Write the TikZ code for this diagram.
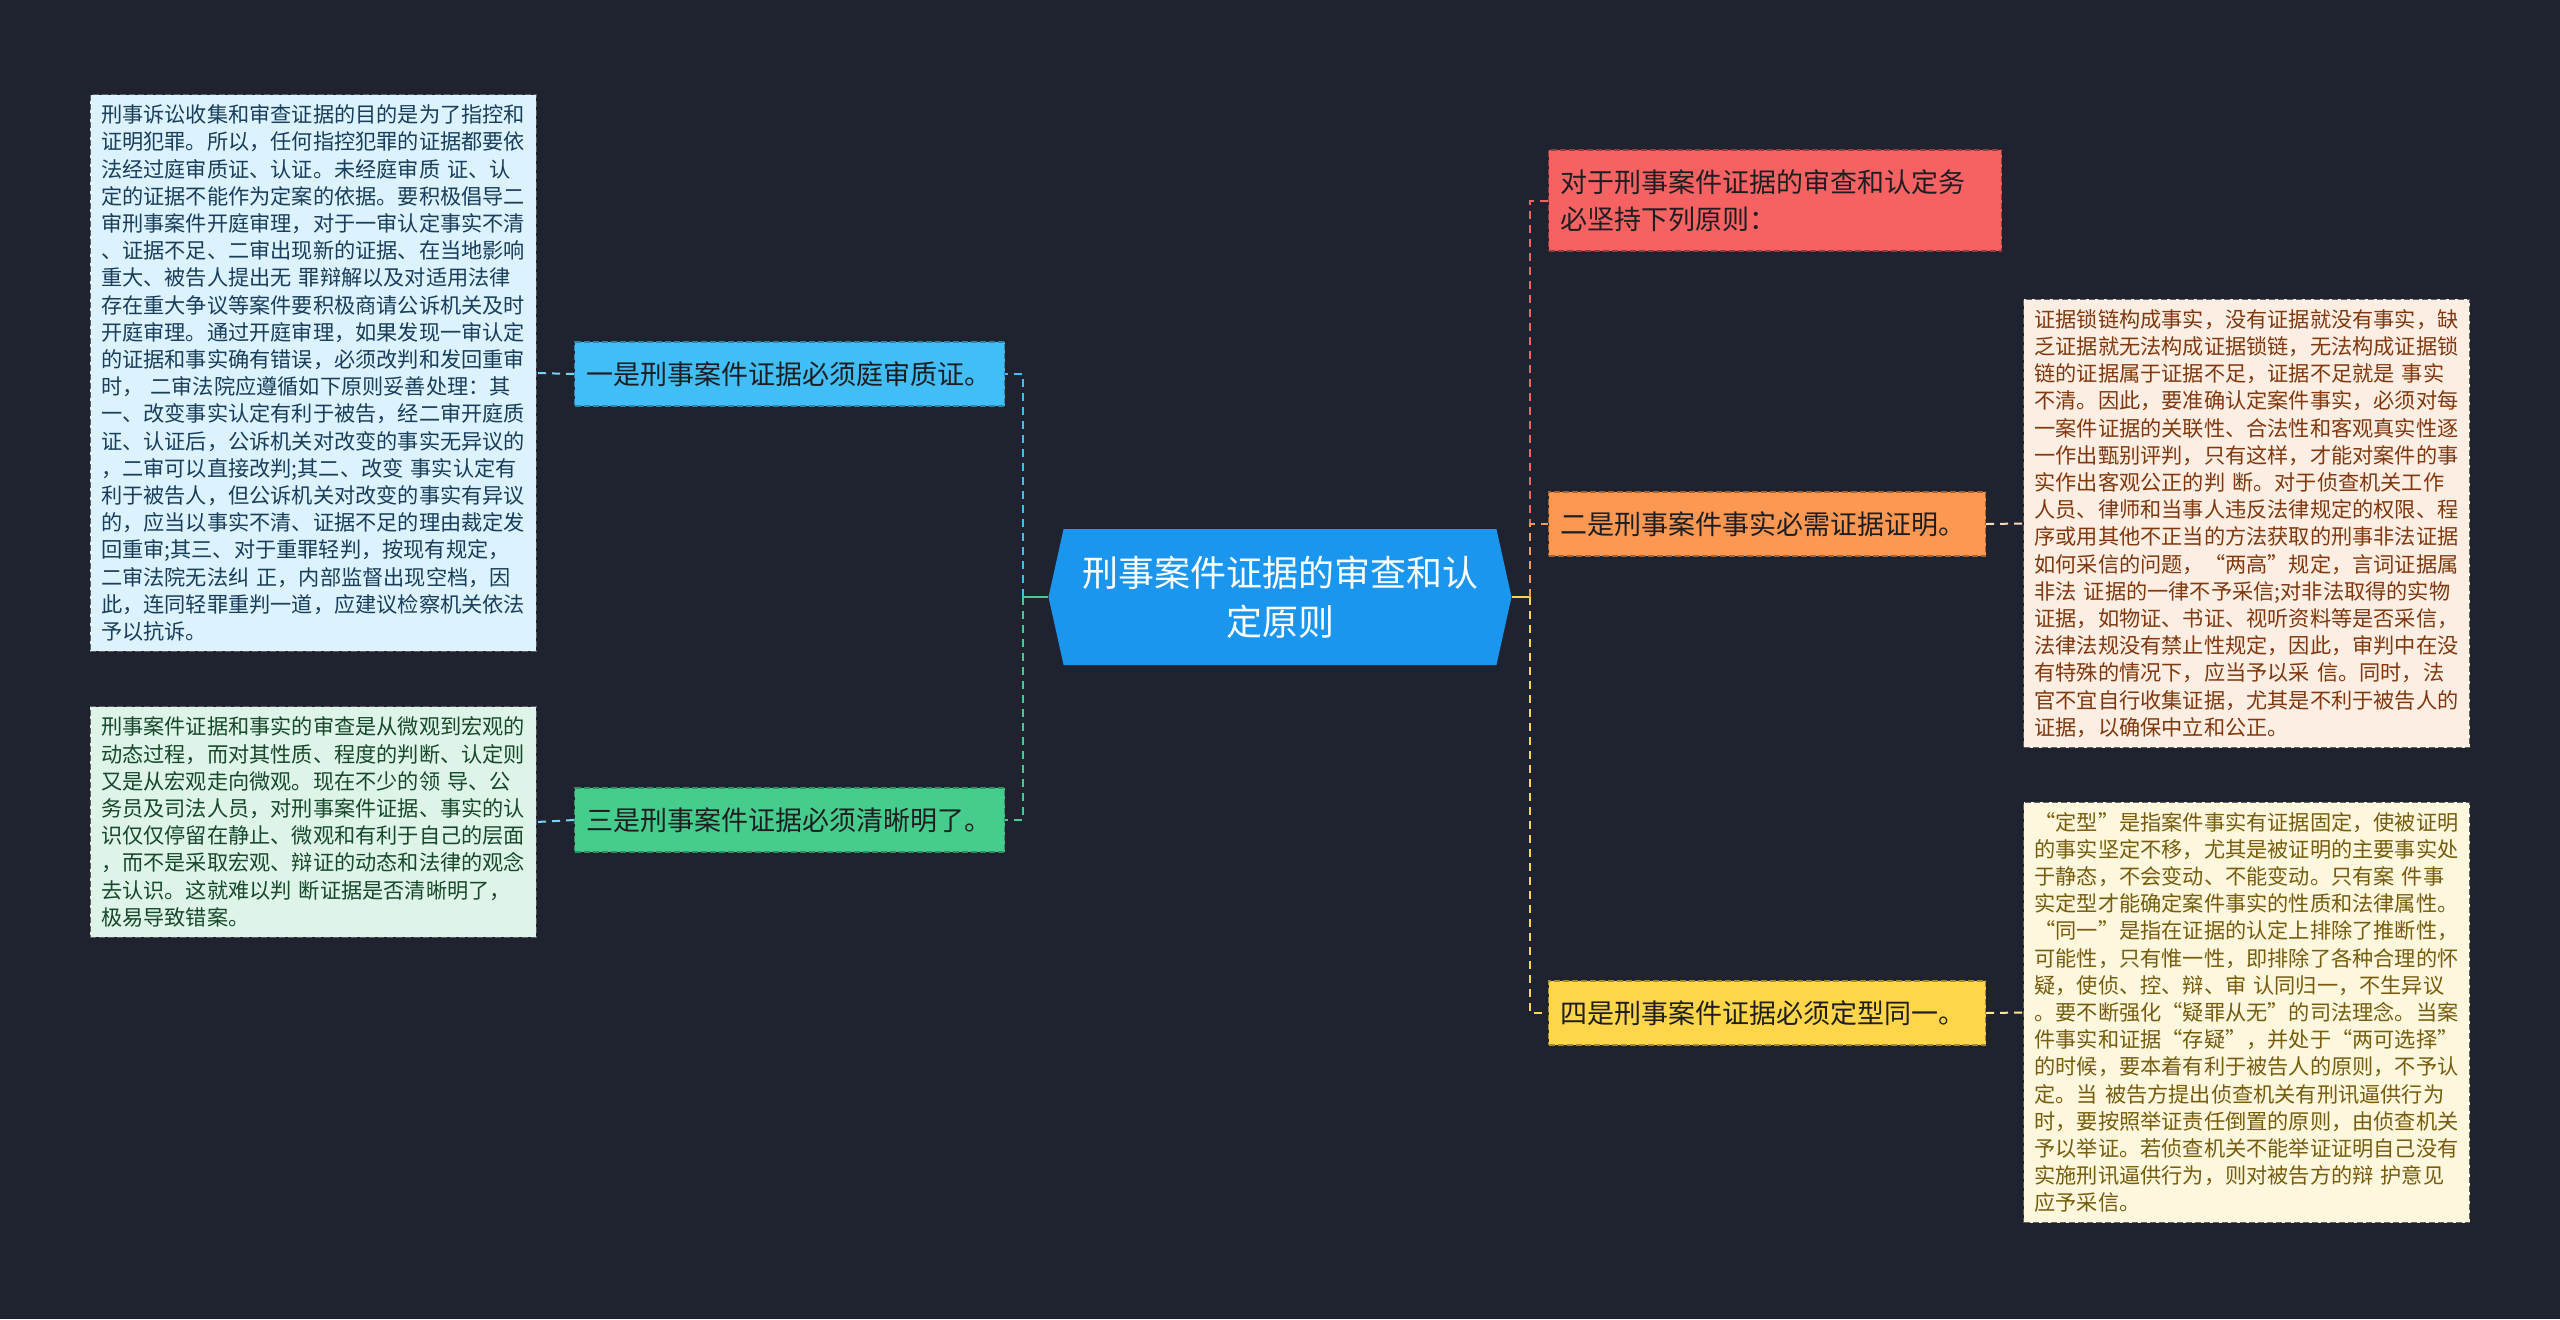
\documentclass[tikz,border=0pt]{standalone}
\usepackage{fontspec}
\setmainfont{Noto Sans CJK SC}
\usetikzlibrary{shapes.symbols}

\definecolor{bgdark}{RGB}{31,35,47}
\definecolor{centreblue}{RGB}{27,150,238}
\definecolor{skyfill}{RGB}{64,190,245}
\definecolor{greenfill}{RGB}{70,204,140}
\definecolor{redfill}{RGB}{246,98,98}
\definecolor{orangefill}{RGB}{253,152,82}
\definecolor{yellowfill}{RGB}{255,214,74}
\definecolor{skynote}{RGB}{220,242,252}
\definecolor{greennote}{RGB}{222,244,232}
\definecolor{peachnote}{RGB}{253,238,228}
\definecolor{creamnote}{RGB}{253,247,222}
\definecolor{notebord}{RGB}{95,95,95}
\definecolor{textdark}{RGB}{30,30,34}

\begin{document}
\begin{tikzpicture}[x=0.5pt,y=-0.5pt,
	mainnode/.style={signal, signal to=east and west, signal pointer angle=155, fill=centreblue, text=white,
		font=\fontsize{18}{24.5}\selectfont, align=center, inner sep=0pt, minimum width=231.5pt, minimum height=68pt},
	branch/.style={draw, dash pattern=on 3pt off 1.5pt, line width=0.6pt, anchor=west, text=textdark,
		font=\fontsize{13.5}{18.5}\selectfont, align=left, inner xsep=6pt, inner ysep=0pt, minimum height=32pt},
	notebox/.style={draw=notebord, dash pattern=on 3pt off 1.5pt, line width=0.5pt,
		font=\fontsize{10.6}{13.6}\selectfont, align=left, text width=212pt, inner xsep=5.5pt, inner ysep=5pt},
	link/.style={dash pattern=on 4pt off 3pt, line width=1pt}]

	\useasboundingbox (0,0) rectangle (2560,1319);
	\fill[bgdark] (0,0) rectangle (2560,1319);

	%centre
	\node[mainnode] (main) at (1280,597) {刑事案件证据的审查和认\\定原则};
	\coordinate (lhub) at (1023,597);
	\coordinate (rhub) at (1530,597);

	%branches - left
	\node[branch, fill=skyfill, draw=skyfill!70!black, text width=203pt] (one) at (574,374) {一是刑事案件证据必须庭审质证。};
	\node[branch, fill=greenfill, draw=greenfill!70!black, text width=203pt] (three) at (574,820) {三是刑事案件证据必须清晰明了。};

	%branches - right
	\node[branch, fill=redfill, draw=redfill!60!black, text width=214.5pt, minimum height=50.5pt] (intro) at (1548,200.5) {对于刑事案件证据的审查和认定务\\必坚持下列原则：};
	\node[branch, fill=orangefill, draw=orangefill!65!black, text width=206.5pt] (two) at (1548,524) {二是刑事案件事实必需证据证明。};
	\node[branch, fill=yellowfill, draw=yellowfill!65!black, text width=206.5pt] (four) at (1548,1013) {四是刑事案件证据必须定型同一。};

	%notes - left
	\node[notebox, fill=skynote, text={rgb,255:red,24;green,62;blue,92}] (noteone) at (313,373) {刑事诉讼收集和审查证据的目的是为了指控和\\
证明犯罪。所以，任何指控犯罪的证据都要依\\
法经过庭审质证、认证。未经庭审质 证、认\\
定的证据不能作为定案的依据。要积极倡导二\\
审刑事案件开庭审理，对于一审认定事实不清\\
、证据不足、二审出现新的证据、在当地影响\\
重大、被告人提出无 罪辩解以及对适用法律\\
存在重大争议等案件要积极商请公诉机关及时\\
开庭审理。通过开庭审理，如果发现一审认定\\
的证据和事实确有错误，必须改判和发回重审\\
时， 二审法院应遵循如下原则妥善处理：其\\
一、改变事实认定有利于被告，经二审开庭质\\
证、认证后，公诉机关对改变的事实无异议的\\
，二审可以直接改判;其二、改变 事实认定有\\
利于被告人，但公诉机关对改变的事实有异议\\
的，应当以事实不清、证据不足的理由裁定发\\
回重审;其三、对于重罪轻判，按现有规定，\\
二审法院无法纠 正，内部监督出现空档，因\\
此，连同轻罪重判一道，应建议检察机关依法\\
予以抗诉。};
	\node[notebox, fill=greennote, text={rgb,255:red,22;green,72;blue,42}] (notethree) at (313,822) {刑事案件证据和事实的审查是从微观到宏观的\\
动态过程，而对其性质、程度的判断、认定则\\
又是从宏观走向微观。现在不少的领 导、公\\
务员及司法人员，对刑事案件证据、事实的认\\
识仅仅停留在静止、微观和有利于自己的层面\\
，而不是采取宏观、辩证的动态和法律的观念\\
去认识。这就难以判 断证据是否清晰明了，\\
极易导致错案。};

	%notes - right
	\node[notebox, fill=peachnote, text={rgb,255:red,128;green,56;blue,12}] (notetwo) at (2246.5,523.5) {证据锁链构成事实，没有证据就没有事实，缺\\
乏证据就无法构成证据锁链，无法构成证据锁\\
链的证据属于证据不足，证据不足就是 事实\\
不清。因此，要准确认定案件事实，必须对每\\
一案件证据的关联性、合法性和客观真实性逐\\
一作出甄别评判，只有这样，才能对案件的事\\
实作出客观公正的判 断。对于侦查机关工作\\
人员、律师和当事人违反法律规定的权限、程\\
序或用其他不正当的方法获取的刑事非法证据\\
如何采信的问题，“两高”规定，言词证据属\\
非法 证据的一律不予采信;对非法取得的实物\\
证据，如物证、书证、视听资料等是否采信，\\
法律法规没有禁止性规定，因此，审判中在没\\
有特殊的情况下，应当予以采 信。同时，法\\
官不宜自行收集证据，尤其是不利于被告人的\\
证据，以确保中立和公正。};
	\node[notebox, fill=creamnote, text={rgb,255:red,118;green,92;blue,12}] (notefour) at (2246.5,1012.5) {“定型”是指案件事实有证据固定，使被证明\\
的事实坚定不移，尤其是被证明的主要事实处\\
于静态，不会变动、不能变动。只有案 件事\\
实定型才能确定案件事实的性质和法律属性。\\
“同一”是指在证据的认定上排除了推断性，\\
可能性，只有惟一性，即排除了各种合理的怀\\
疑，使侦、控、辩、审 认同归一，不生异议\\
。要不断强化“疑罪从无”的司法理念。当案\\
件事实和证据“存疑”，并处于“两可选择”\\
的时候，要本着有利于被告人的原则，不予认\\
定。当 被告方提出侦查机关有刑讯逼供行为\\
时，要按照举证责任倒置的原则，由侦查机关\\
予以举证。若侦查机关不能举证证明自己没有\\
实施刑讯逼供行为，则对被告方的辩 护意见\\
应予采信。};

	%connectors - left
	\draw[line width=1pt, greenfill] (main.west) -- (lhub);
	\draw[link, skyfill] (lhub) |- (one.east);
	\draw[link, greenfill] (lhub) |- (three.east);
	\draw[link, skyfill!70!white] (one.west) -- (noteone.east);
	\draw[link, skyfill!70!white] (three.west) -- (notethree.east);

	%connectors - right
	\draw[line width=1pt, yellowfill] (main.east) -- (rhub);
	\draw[link, redfill] (rhub) |- (intro.west);
	\draw[link, orangefill] (rhub) |- (two.west);
	\draw[link, yellowfill] (rhub) |- (four.west);
	\draw[link, orangefill!40!white] (two.east) -- (notetwo.west);
	\draw[link, yellowfill!60!white] (four.east) -- (notefour.west);

\end{tikzpicture}
\end{document}
